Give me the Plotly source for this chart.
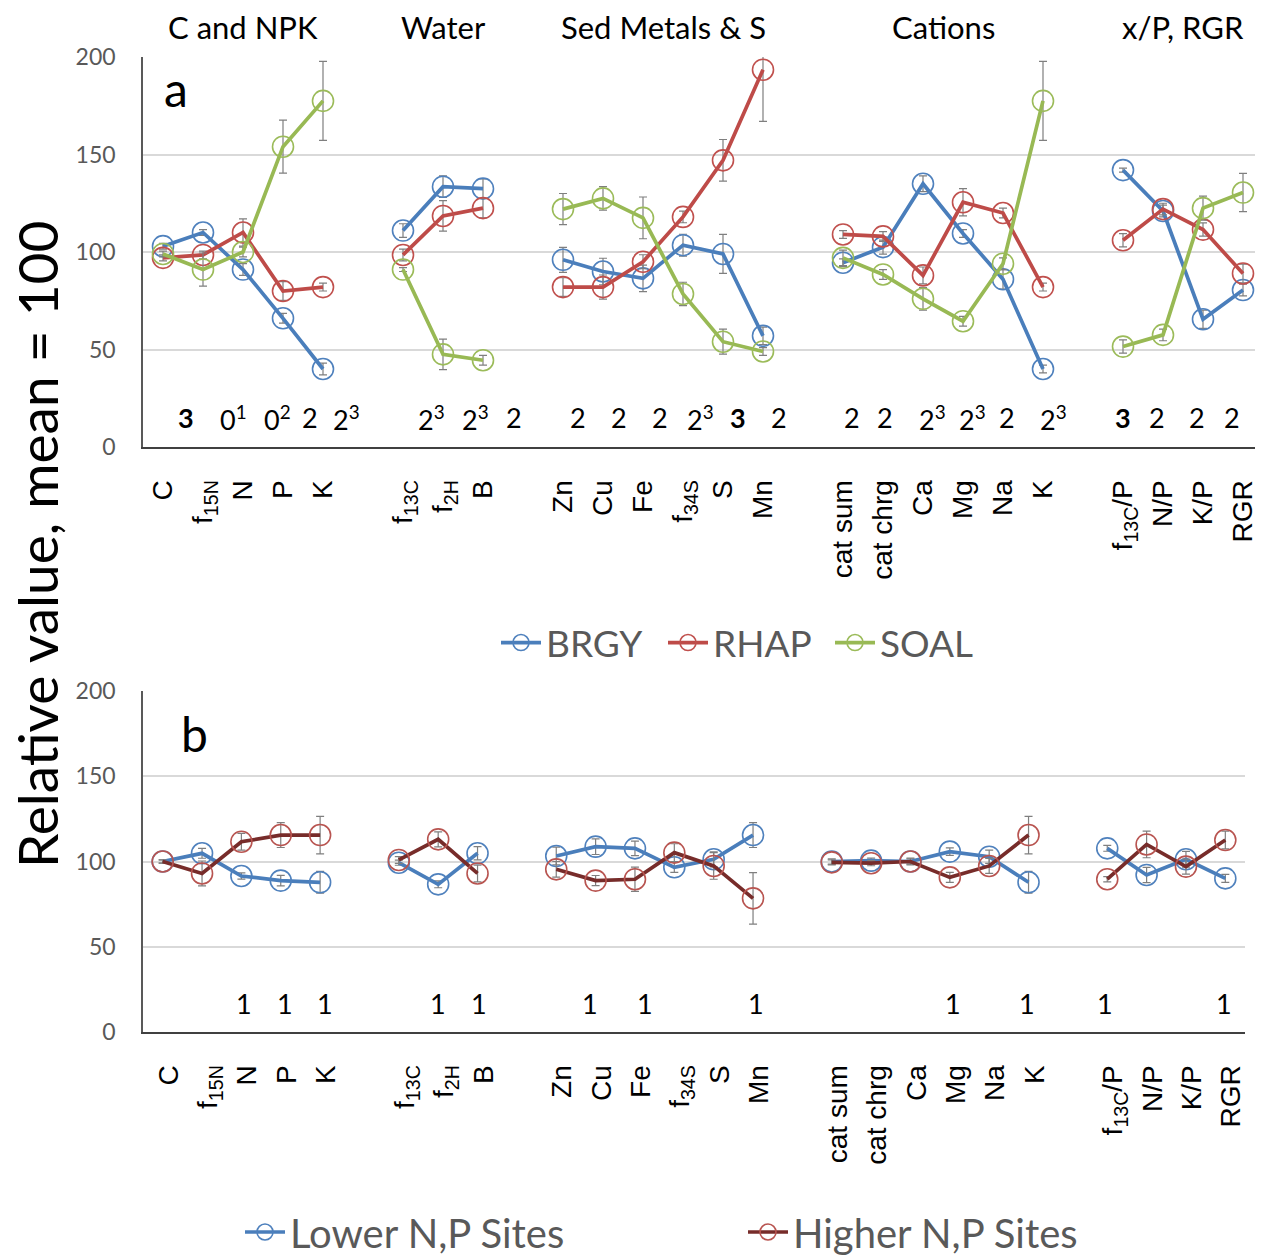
import plotly.graph_objects as go

# ---------------- data ----------------
categories = ["C", "f<sub>15N</sub>", "N", "P", "K", None,
              "f<sub>13C</sub>", "f<sub>2H</sub>", "B", None,
              "Zn", "Cu", "Fe", "f<sub>34S</sub>", "S", "Mn", None,
              "cat sum", "cat chrg", "Ca", "Mg", "Na", "K", None,
              "f<sub>13C</sub>/P", "N/P", "K/P", "RGR"]

groups = ["C and NPK", "Water", "Sed Metals & S", "Cations", "x/P, RGR"]

brgy = [103, 110, 91, 66, 40, None, 111, 133.5, 132.5, None,
        96, 90, 86.5, 103.5, 99, 57, None,
        94.5, 102.5, 135, 109.5, 86, 40, None,
        142, 121, 65.5, 80.5]
brgy_err = [1.5, 1.5, 3, 2.5, 3, None, 3.5, 5.5, 5, None,
            6.4, 6.8, 6.8, 5.6, 10, 4.5, None,
            2, 3.6, 4, 2, 5, 2, None,
            1, 3, 4.7, 3]

rhap = [97, 98.5, 110, 80, 82, None, 98.5, 118.5, 122.5, None,
        82, 82, 95, 118, 147, 193.5, None,
        109, 108, 88, 125.5, 120, 82, None,
        106, 122, 111.5, 89]
rhap_err = [1.5, 2, 7, 4.8, 2, None, 3, 7.8, 5, None,
            4.8, 6.2, 3.6, 3, 10.7, 26.5, None,
            2, 2.5, 4.3, 7, 2.5, 2, None,
            3.4, 3, 3.4, 4.8]

soal = [99, 91, 100, 154, 177.5, None, 91, 47.5, 44.5, None,
        122, 127.5, 117.5, 78.5, 54, 49, None,
        97, 88.5, 76, 64.5, 94, 177.5, None,
        51.5, 57.5, 122.5, 130.5]
soal_err = [1.5, 8.5, 2.5, 13.6, 20.3, None, 1, 7.8, 2.5, None,
            8, 6, 10.7, 6, 6.4, 2, None,
            4, 2.5, 5.8, 2.5, 3, 20.3, None,
            3.4, 3, 6.2, 9.8]

lower_np = [100, 104.8, 91.5, 88.8, 87.8, None, 99.3, 86.6, 104.8, None,
            103.2, 108.7, 107.7, 96.6, 101.3, 115.5, None,
            100, 100.5, 100, 105.8, 102.8, 87.8, None,
            107.7, 92.1, 101.3, 90.1]
lower_np_err = [1, 2.9, 1.8, 3.1, 6.4, None, 1.5, 2, 3.9, None,
                5.2, 4.6, 4.2, 3, 4.4, 7.3, None,
                1.5, 1.5, 1.5, 2.2, 3.9, 6.4, None,
                1.7, 4.5, 4.6, 2.4]

higher_np = [100, 93, 111.6, 115.5, 115.5, None, 100.9, 113, 93, None,
             95.4, 88.8, 89.6, 105.2, 97.4, 78.4, None,
             99.5, 99, 100, 90.7, 97.4, 115.5, None,
             89.6, 110, 97, 112.6]
higher_np_err = [1, 7.3, 4.9, 7.3, 11, None, 2, 4.4, 4.9, None,
                 4.6, 3, 7.1, 5.2, 7.8, 15.1, None,
                 1.5, 1.5, 2, 2.9, 4.4, 11, None,
                 1.5, 7.8, 4.4, 5.2]

top_notes = ["<b>3</b>", "0<sup>1</sup>", "0<sup>2</sup>", "2", "2<sup>3</sup>", None,
             "2<sup>3</sup>", "2<sup>3</sup>", "2", None,
             "2", "2", "2", "2<sup>3</sup>", "<b>3</b>", "2", None,
             "2", "2", "2<sup>3</sup>", "2<sup>3</sup>", "2", "2<sup>3</sup>", None,
             "<b>3</b>", "2", "2", "2"]
bottom_notes = [None, None, "1", "1", "1", None, None, "1", "1", None,
                None, "1", "1", None, None, "1", None,
                None, None, None, "1", None, "1", None,
                "1", None, None, "1"]
note_level_top = 15
note_level_bottom = 17

# ---------------- style / layout helpers ----------------
SCREEN_W, SCREEN_H = 1263, 1257
OFF = 8                      # page body margin of the browser
W, H = SCREEN_W - OFF, SCREEN_H - OFF


def fx(px):
    return (px - OFF) / W


def fy(py):
    return 1 - (py - OFF) / H


top_note_shift = [23, 30, 34, 27, 23, 0, 28, 32, 31, 0,
                  15, 16, 17, 17, 15, 16, 0,
                  9, 2, 9, 9, 4, 10, 0,
                  0, -6, -6, -11]
bottom_note_shift = [0, 0, 3, 4, 5, 0, 0, 0, 1, 0,
                     0, -6, 10, 0, 0, 3, 0,
                     0, 0, 0, 3, 0, -2, 0,
                     -2, 0, 0, -1]

xs = list(range(len(categories)))
tickvals = [i for i, c in enumerate(categories) if c is not None]
ticktext = [c for c in categories if c is not None]

LINE_FONT = "Lato, 'Open Sans', sans-serif"
ARIAL = "'Liberation Sans', Arial, sans-serif"
ERR_COLOR = "#7f7f7f"

fig = go.Figure()


def add_series(name, y, err, line_color, marker_color, xa, ya, legend):
    fig.add_trace(go.Scatter(
        x=xs, y=y, name=name, mode="lines+markers",
        xaxis=xa, yaxis=ya, legend=legend,
        line=dict(color=line_color, width=3.7),
        marker=dict(symbol="circle-open", size=21, color=marker_color,
                    line=dict(width=1.6, color=marker_color)),
        error_y=dict(type="data", array=err, visible=True,
                     color=ERR_COLOR, thickness=1.2, width=4),
        connectgaps=False,
    ))


add_series("BRGY", brgy, brgy_err, "#4a7ebb", "#4f81bd", "x", "y", "legend")
add_series("RHAP", rhap, rhap_err, "#be4b48", "#c0504d", "x", "y", "legend")
add_series("SOAL", soal, soal_err, "#98b954", "#9bbb59", "x", "y", "legend")
add_series("Lower N,P Sites", lower_np, lower_np_err, "#4a7ebb", "#4f81bd", "x2", "y2", "legend2")
add_series("Higher N,P Sites", higher_np, higher_np_err, "#772c2a", "#b85450", "x2", "y2", "legend3")

annotations = []
for i, t in enumerate(top_notes):
    if t:
        annotations.append(dict(x=xs[i], y=note_level_top, xref="x", yref="y", text=t,
                                showarrow=False, xshift=top_note_shift[i],
                                font=dict(family=LINE_FONT, size=27, color="black")))
for i, t in enumerate(bottom_notes):
    if t:
        annotations.append(dict(x=xs[i], y=note_level_bottom, xref="x2", yref="y2", text=t,
                                showarrow=False, xshift=bottom_note_shift[i],
                                font=dict(family=LINE_FONT, size=27, color="black")))

# group headings centred over each group of categories
group_spans = []
start = 0
for i, c in enumerate(categories + [None]):
    if c is None:
        group_spans.append((start, i - 1))
        start = i + 1
for g, (a, b) in zip(groups, group_spans):
    annotations.append(dict(x=(xs[a] + xs[b]) / 2, y=fy(27), xref="x", yref="paper",
                            text=g, showarrow=False, xanchor="center", yanchor="middle",
                            font=dict(family=LINE_FONT, size=31, color="black")))

annotations.append(dict(x=fx(176), y=fy(88), xref="paper", yref="paper", text="a",
                        xanchor="center", yanchor="middle",
                        showarrow=False, font=dict(family=LINE_FONT, size=48, color="black")))
annotations.append(dict(x=fx(194), y=fy(733), xref="paper", yref="paper", text="b",
                        xanchor="center", yanchor="middle",
                        showarrow=False, font=dict(family=LINE_FONT, size=48, color="black")))
annotations.append(dict(x=fx(37), y=fy(545), xref="paper", yref="paper",
                        xanchor="center", yanchor="middle", borderpad=0,
                        text="Relative value, mean = 100", textangle=-90, showarrow=False,
                        font=dict(family=LINE_FONT, size=55, color="black")))

xaxis_common = dict(range=[-0.5, len(categories) - 0.5], tickmode="array",
                    tickvals=tickvals, ticktext=ticktext, tickangle=-90,
                    tickfont=dict(family=ARIAL, size=28, color="black"),
                    showgrid=False, zeroline=False, showline=True,
                    linecolor="#404040", linewidth=2, ticks="",
                    ticklabelstandoff=20, fixedrange=True, automargin=False)
yaxis_common = dict(range=[0, 200], tickvals=[0, 50, 100, 150, 200],
                    tickfont=dict(family=LINE_FONT, size=23, color="#595959"),
                    showgrid=True, gridcolor="#d9d9d9", gridwidth=1.5,
                    zeroline=False, showline=True, linecolor="#595959", linewidth=1.5,
                    ticks="", ticklabelstandoff=21, fixedrange=True, automargin=False)

legend_common = dict(orientation="h", xanchor="left", yanchor="middle",
                     itemwidth=40, bgcolor="rgba(0,0,0,0)", borderwidth=0)
top_legend_font = dict(family=LINE_FONT, size=37, color="#595959")
bottom_legend_font = dict(family=LINE_FONT, size=40, color="#595959")

fig.update_layout(
    template="none",
    width=W, height=H,
    margin=dict(l=0, r=0, t=0, b=0, autoexpand=False),
    paper_bgcolor="white", plot_bgcolor="white",
    xaxis=dict(domain=[fx(143), fx(1263)], anchor="y", ticklabelshift=0, **xaxis_common),
    yaxis=dict(domain=[fy(447), fy(57)], anchor="x", **yaxis_common),
    xaxis2=dict(domain=[fx(143), fx(1245)], anchor="y2", ticklabelshift=6, **xaxis_common),
    yaxis2=dict(domain=[fy(1032), fy(691)], anchor="x2", **yaxis_common),
    legend=dict(x=fx(496), y=fy(643), font=top_legend_font,
                entrywidth=112, entrywidthmode="pixels", **legend_common),
    legend2=dict(x=fx(240), y=fy(1232), font=bottom_legend_font, **legend_common),
    legend3=dict(x=fx(743), y=fy(1232), font=bottom_legend_font, **legend_common),
    annotations=annotations,
    showlegend=True,
)

fig.write_html("out.html")
